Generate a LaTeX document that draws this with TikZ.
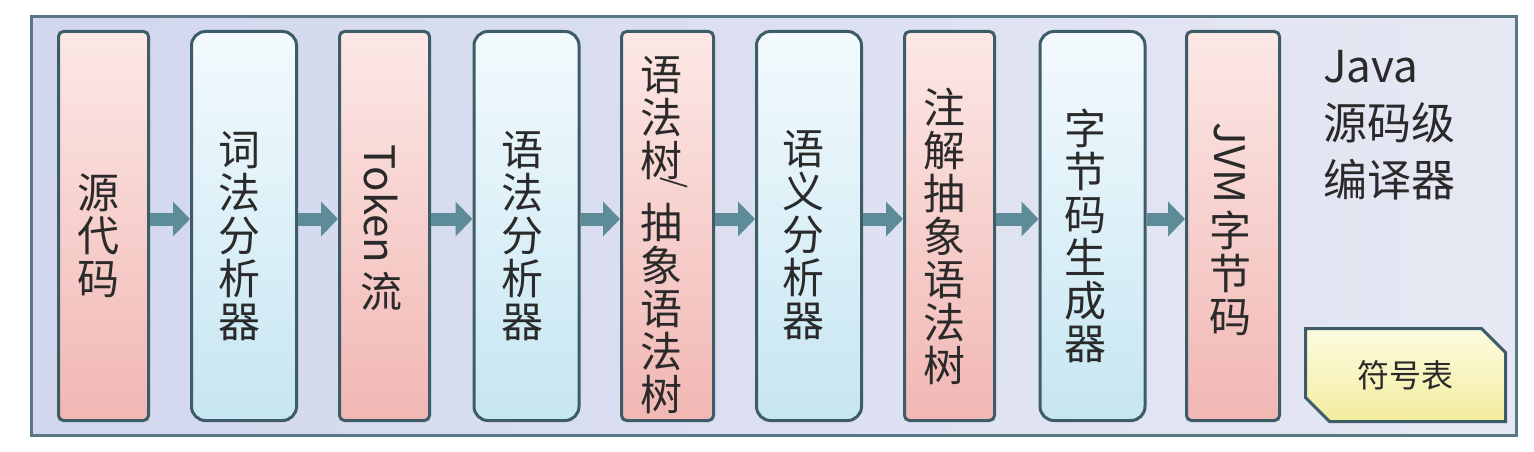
\documentclass[tikz,border=0pt]{standalone}
\usepackage{fontspec}
\newfontfamily\cjk{Noto Sans CJK SC}
\usetikzlibrary{arrows.meta,shapes.misc}
\definecolor{frameC}{HTML}{5A7884}
\definecolor{borderC}{HTML}{3E5C68}
\definecolor{arrowC}{HTML}{5D8B98}
\definecolor{pinkTop}{HTML}{FCE8E6}
\definecolor{pinkBot}{HTML}{F1B7B3}
\definecolor{blueTop}{HTML}{F3FAFD}
\definecolor{blueBot}{HTML}{C6E6F2}
\definecolor{bgL}{HTML}{D2D7EE}
\definecolor{bgR}{HTML}{E6E8F3}
\definecolor{yelTop}{HTML}{FDFCE2}
\definecolor{yelBot}{HTML}{F2EC9C}
\definecolor{txtC}{HTML}{2A2A2A}
\begin{document}
\begin{tikzpicture}[x=1pt,y=-1pt,
  outerframe/.style={draw=frameC, line width=3pt, left color=bgL, right color=bgR, minimum width=1485pt, minimum height=419pt, inner sep=0pt},
  pinkbox/.style={draw=borderC, line width=3pt, rounded corners=5pt, top color=pinkTop, bottom color=pinkBot, minimum width=90pt, minimum height=389pt, inner sep=0pt},
  bluebox/.style={draw=borderC, line width=3pt, rounded corners=14pt, top color=blueTop, bottom color=blueBot, minimum width=105pt, minimum height=389pt, inner sep=0pt},
  vtext/.style={text=txtC, align=center, inner sep=0pt, font=\cjk\fontsize{42}{43}\selectfont},
  titletext/.style={text=txtC, align=left, inner sep=0pt, anchor=north west, font=\cjk\fontsize{44}{57}\selectfont},
  symbox/.style={chamfered rectangle, chamfered rectangle corners={north east,south west}, chamfered rectangle xsep=12pt, chamfered rectangle ysep=12pt, draw=borderC, line width=3pt, top color=yelTop, bottom color=yelBot, minimum width=200pt, minimum height=93pt, inner sep=0pt, text=txtC, font=\cjk\fontsize{32}{34}\selectfont},
  arr/.style={draw=arrowC, line width=13pt, -{Triangle[length=17pt,width=34pt]}}
]
\useasboundingbox (0,0) rectangle (1534,452);
\fill[white] (0,0) rectangle (1534,452);
\node[outerframe] (frame) at (774,226) {};

\node[pinkbox] (b1) at (103.5,226) {};
\node[bluebox] (b2) at (244,226) {};
\node[pinkbox] (b3) at (384.5,226) {};
\node[bluebox] (b4) at (526.5,226) {};
\node[pinkbox, minimum width=92pt] (b5) at (667.5,226) {};
\node[bluebox] (b6) at (809,226) {};
\node[pinkbox] (b7) at (949.5,226) {};
\node[bluebox] (b8) at (1092.5,226) {};
\node[pinkbox, minimum width=93pt] (b9) at (1233,226) {};

\node[vtext] (t1) at (98,236) {源\\代\\码};
\node[vtext] (t2) at (239,236) {词\\法\\分\\析\\器};
\node[vtext] (t3) at (381,228) {\rotatebox{-90}{Token}\\[8pt]流};
\node[vtext] (t4) at (522,236) {语\\法\\分\\析\\器};
\node[vtext] (t5) at (661,235) {语\\法\\树\rlap{\hspace{-22pt}\raisebox{-1pt}{\fontsize{28}{28}\selectfont\rotatebox{-90}{/}}}\\[14pt]抽\\象\\语\\法\\树};
\node[vtext] (t6) at (803,235) {语\\义\\分\\析\\器};
\node[vtext] (t7) at (944,236) {注\\解\\抽\\象\\语\\法\\树};
\node[vtext] (t8) at (1085,236) {字\\节\\码\\生\\成\\器};
\node[vtext] (t9) at (1230,229) {\rotatebox{-90}{JVM}\\[6pt]字\\节\\码};

\node[titletext] (title) at (1323,50) {Java\\源码级\\编译器};

\node[symbox] (sym) at (1405.5,375) {符号表};

\draw[arr] ([yshift=7pt]b1.east) -- ([yshift=7pt]b2.west);
\draw[arr] ([yshift=7pt]b2.east) -- ([yshift=7pt]b3.west);
\draw[arr] ([yshift=7pt]b3.east) -- ([yshift=7pt]b4.west);
\draw[arr] ([yshift=7pt]b4.east) -- ([yshift=7pt]b5.west);
\draw[arr] ([yshift=7pt]b5.east) -- ([yshift=7pt]b6.west);
\draw[arr] ([yshift=7pt]b6.east) -- ([yshift=7pt]b7.west);
\draw[arr] ([yshift=7pt]b7.east) -- ([yshift=7pt]b8.west);
\draw[arr] ([yshift=7pt]b8.east) -- ([yshift=7pt]b9.west);
\end{tikzpicture}
\end{document}
